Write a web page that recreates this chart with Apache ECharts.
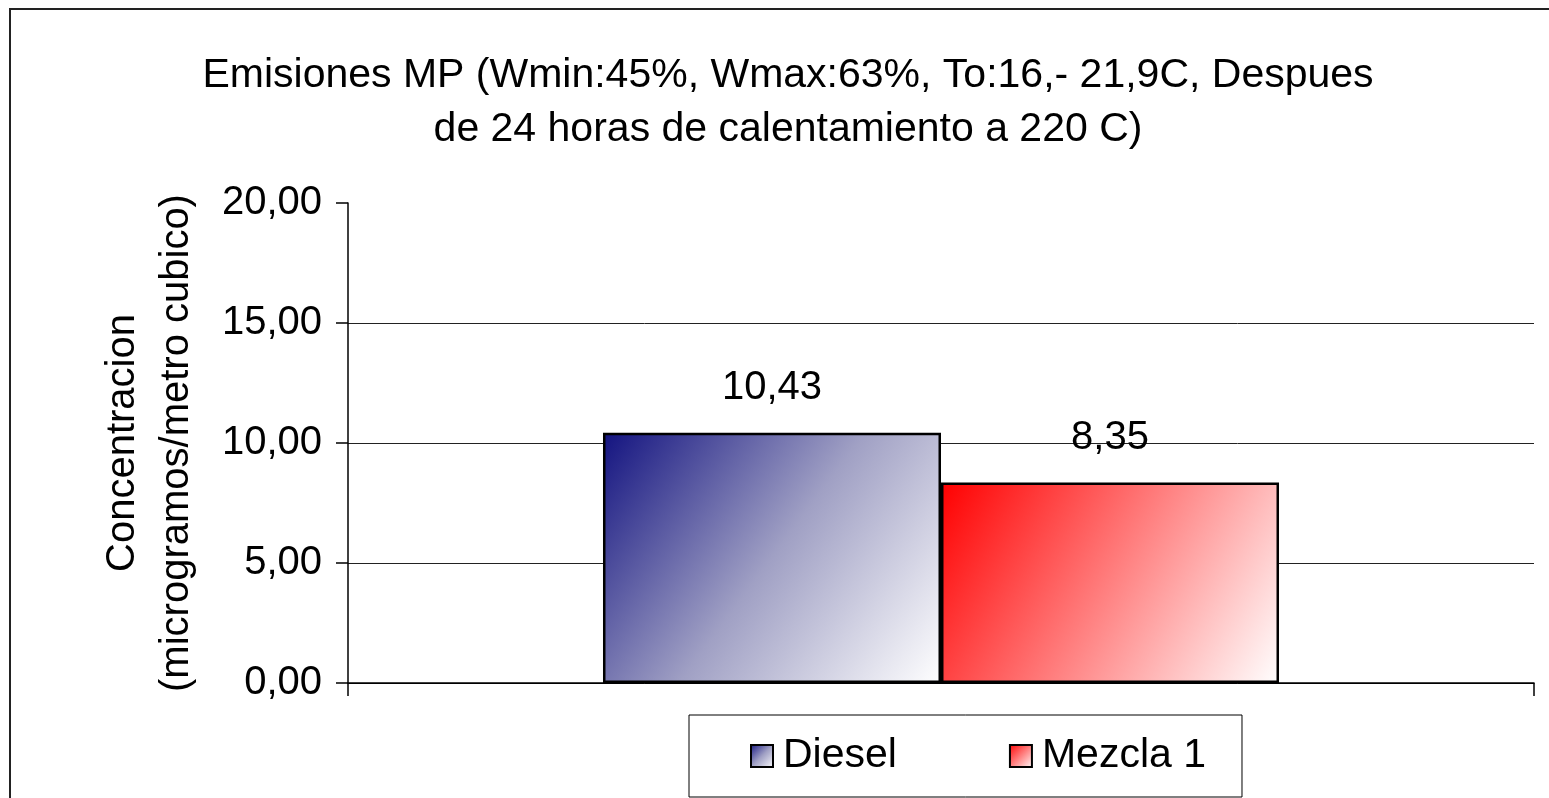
<!DOCTYPE html>
<html>
<head>
<meta charset="utf-8">
<script src="https://cdn.jsdelivr.net/npm/echarts@6/dist/echarts.min.js"></script>
<style>
html,body{margin:0;padding:0;background:#fff;}
#chart{width:1549px;height:798px;}
</style>
</head>
<body>
<div id="chart"></div>
<script>
const categories = [''];
const dieselValues = [10.43];
const mezclaValues = [8.35];
const seriesNames = ['Diesel', 'Mezcla 1'];
const yTicks = [0, 5, 10, 15, 20];
const titleText = 'Emisiones MP (Wmin:45%, Wmax:63%, To:16,- 21,9C, Despues\nde 24 horas de calentamiento a 220 C)';
const yAxisName = 'Concentracion\n(microgramos/metro cubico)';

const FONT = "'Liberation Sans', Arial, sans-serif";
const fmt = v => v.toFixed(2).replace('.', ',');

const chart = echarts.init(document.getElementById('chart'), null, {renderer: 'canvas'});
chart.setOption({
  backgroundColor: '#fff',
  animation: false,
  graphic: [{
    type: 'rect', z: -10, silent: true,
    shape: {x: 10, y: 9, width: 1600, height: 900},
    style: {fill: 'none', stroke: '#222', lineWidth: 2}
  }],
  title: {
    text: titleText,
    left: 783, top: 44, textAlign: 'center',
    textStyle: {fontFamily: FONT, fontSize: 41, fontWeight: 'normal', color: '#000', lineHeight: 54}
  },
  legend: {
    data: seriesNames,
    left: 689, top: 715,
    orient: 'horizontal',
    icon: 'rect',
    padding: [18, 36, 18, 61],
    itemGap: 112,
    itemWidth: 22, itemHeight: 22,
    borderColor: '#000', borderWidth: 1,
    textStyle: {fontFamily: FONT, fontSize: 41, color: '#000', lineHeight: 46, padding: [0, 0, 0, 5]}
  },
  grid: {left: 348, right: 15, top: 203, bottom: 115, containLabel: false},
  xAxis: {
    type: 'category',
    data: categories,
    axisLine: {lineStyle: {color: '#000', width: 1.5}},
    axisTick: {show: true, length: 13, lineStyle: {color: '#000', width: 1.5}},
    axisLabel: {show: false},
    splitLine: {show: false}
  },
  yAxis: {
    type: 'value',
    min: yTicks[0], max: yTicks[yTicks.length - 1], interval: yTicks[1] - yTicks[0],
    name: yAxisName,
    nameLocation: 'middle',
    nameGap: 144,
    nameTextStyle: {fontFamily: FONT, fontSize: 40, color: '#000', lineHeight: 54},
    axisLine: {show: true, lineStyle: {color: '#000', width: 1.5}},
    axisTick: {show: true, length: 12, lineStyle: {color: '#000', width: 1.5}},
    axisLabel: {fontFamily: FONT, fontSize: 40, color: '#000', margin: 26, formatter: fmt},
    splitLine: {show: true, showMaxLine: false, lineStyle: {color: ['#000', '#222', '#222', '#222', 'rgba(0,0,0,0)'], width: 1}}
  },
  series: [
    {
      name: seriesNames[0], type: 'bar', data: dieselValues,
      barGap: '0%', barCategoryGap: '43%',
      itemStyle: {
        color: new echarts.graphic.LinearGradient(0, 0, 1, 1, [
          {offset: 0, color: '#131380'}, {offset: 0.5, color: '#a0a0c4'}, {offset: 1, color: '#ffffff'}
        ]),
        borderColor: '#000', borderWidth: 2.5
      },
      label: {show: true, position: 'top', distance: 22, fontFamily: FONT, fontSize: 40, color: '#000', lineHeight: 46,
        formatter: p => fmt(p.value)}
    },
    {
      name: seriesNames[1], type: 'bar', data: mezclaValues,
      barGap: '0%', barCategoryGap: '43%',
      itemStyle: {
        color: new echarts.graphic.LinearGradient(0, 0, 1, 1, [
          {offset: 0, color: '#ff0000'}, {offset: 1, color: '#ffffff'}
        ]),
        borderColor: '#000', borderWidth: 2.5
      },
      label: {show: true, position: 'top', distance: 22, fontFamily: FONT, fontSize: 40, color: '#000', lineHeight: 46,
        formatter: p => fmt(p.value)}
    }
  ]
});
</script>
</body>
</html>
